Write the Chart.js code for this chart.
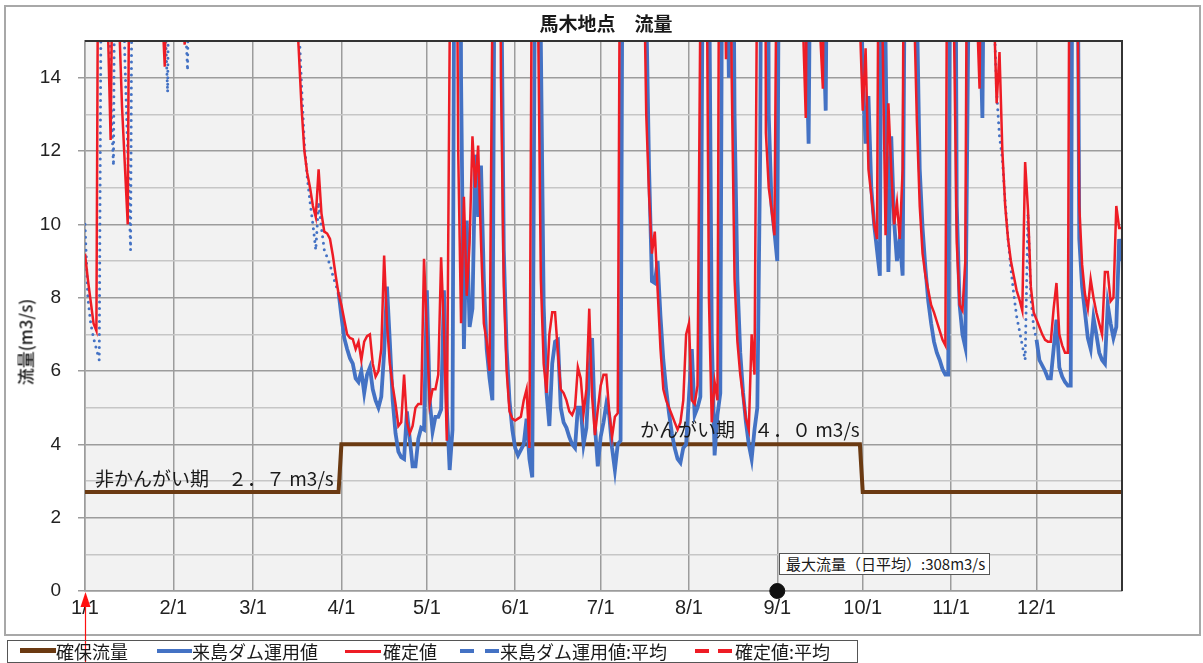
<!DOCTYPE html>
<html lang="ja">
<head>
<meta charset="utf-8">
<script src="https://cdn.jsdelivr.net/npm/chart.js@4.4.1/dist/chart.umd.min.js"></script>
<style>
html,body{margin:0;padding:0;background:#fff;}
body{width:1203px;height:663px;position:relative;overflow:hidden;font-family:"Noto Sans CJK JP","Noto Sans",sans-serif;color:#1a1a1a;}
#frame{position:absolute;left:4px;top:5px;width:1197px;height:631px;border:2px solid #a8a8a8;box-sizing:border-box;}
canvas#c{position:absolute;left:0;top:0;}
.txt{position:absolute;white-space:nowrap;line-height:1;}
#title{left:0;width:1212px;top:13px;text-align:center;font-size:19px;font-weight:bold;}
#ytitle{left:25px;top:342px;transform:translate(-50%,-50%) rotate(-90deg);font-size:17px;font-weight:500;}
#ann1{left:95px;top:468px;font-size:19px;}
#ann2{left:640px;top:419px;font-size:19px;}
#maxbox{position:absolute;left:779px;top:553px;width:211px;height:22px;border:1px solid #555;background:#fff;box-sizing:border-box;font-size:15px;line-height:20px;padding-left:6px;white-space:nowrap;}
#legend{position:absolute;left:7px;top:640px;width:851px;height:23px;border:1.5px solid #555;box-sizing:border-box;}
.sw{position:absolute;height:4px;top:649px;}
.lt{position:absolute;top:642px;font-size:18px;line-height:18px;white-space:nowrap;}
</style>
</head>
<body>
<div id="frame"></div>
<canvas id="c" width="1203" height="663"></canvas>
<div class="txt" id="title">馬木地点　流量</div>
<div class="txt" id="ytitle">流量(m3/s)</div>
<div class="txt" id="ann1">非かんがい期　２．７ m3/s</div>
<div class="txt" id="ann2">かんがい期　４．０ m3/s</div>
<div id="maxbox">最大流量（日平均）:308m3/s</div>
<div id="legend"></div>
<div class="sw" style="left:20px;width:36px;height:5px;top:648px;background:#6b3a12"></div>
<div class="lt" style="left:56px">確保流量</div>
<div class="sw" style="left:157px;width:35px;background:#4472c4"></div>
<div class="lt" style="left:192px">来島ダム運用値</div>
<div class="sw" style="left:345px;width:36px;height:3px;top:650px;background:#ee1c25"></div>
<div class="lt" style="left:383px">確定値</div>
<div class="sw" style="left:460px;width:14px;background:#4472c4"></div>
<div class="sw" style="left:485px;width:14px;background:#4472c4"></div>
<div class="lt" style="left:500px">来島ダム運用値:平均</div>
<div class="sw" style="left:695px;width:14px;background:#ee1c25"></div>
<div class="sw" style="left:718px;width:14px;background:#ee1c25"></div>
<div class="lt" style="left:735px">確定値:平均</div>
<script>
// ---- data (day index 0 = 1/1) ----
const monthStartDays = [0,31,59,90,120,151,181,212,243,273,304,334];
const monthLabels = ["1/1","2/1","3/1","4/1","5/1","6/1","7/1","8/1","9/1","10/1","11/1","12/1"];
const yTickLabels = [0,2,4,6,8,10,12,14];
function gap(n){ return new Array(n).fill(null); }

// 確定値 (daily)
const confirmedFlow = [
 9.2,8.5,7.9,7.3,7.1,25,38,22,15.5,12.3,
 20,32,15.5,13.2,11.6,10.0,24,40,55,45,
 38,32,28,25,22,20,18,16,14.3,19,
 26,22,20,18,16,14.9,19,30,45,60,
 52,44,38,34,30,28,35,48,42,36,
 31,28,26,24,30,42,38,33,29,27,
 25,32,45,40,35,31,28,26,24,22,
 21,19.5,18.5,17.5,16.2,14.8,13.2,12.0,11.4,11.0,
 10.5,10.2,11.5,10.3,9.8,9.75,9.6,9.15,8.6,8.1,
 7.8,7.4,7.0,6.9,6.87,6.6,6.8,6.3,6.8,6.95,
 7.0,6.2,5.85,6.0,6.6,9.15,7.3,6.2,5.6,5.1,
 4.5,4.6,5.9,4.6,4.3,4.5,5.0,5.1,5.1,9.06,
 7.1,5.1,5.5,5.5,5.9,9.1,7.1,4.1,15,40,
 25,12,7.3,10.75,8.05,9.5,12.4,11.0,12.15,9.5,
 7.3,6.8,6.0,16,40,30,14,8.3,6.0,4.9,
 4.7,4.65,4.7,4.75,5.2,5.5,3.9,20,40,16,
 8.5,6.2,5.4,7.0,7.6,7.6,6.5,5.5,5.4,5.2,
 4.9,4.8,5.0,6.1,5.8,4.85,5.5,7.7,5.3,4.25,
 4.95,5.6,5.9,5.9,4.9,4.2,4.75,4.85,22,45,
 60,42,33,38,28,22,18,13.0,10.8,9.2,
 9.8,8.2,6.6,5.5,5.2,5.0,4.8,4.6,4.4,4.6,
 5.2,7.0,7.3,5.2,5.1,5.6,16,38,20,8,
 4.6,5.7,5.2,28,20,14.5,24,14,8.5,6.8,
 5.9,5.3,4.7,4.4,7.0,5.9,18,35,45,12.5,
 11.0,10.4,9.7,20,308,120,70,50,40,32,
 26,20,15.5,12.9,24,40,30,20,15.3,13.7,
 25,45,38,32,28,40,35,30,27,24,
 22,19,15.5,13.1,14.8,11.5,10.8,10.0,9.6,25,
 15,9.7,13.3,11.5,10.0,10.6,9.6,11.5,28,40,
 24,16,12.8,10.5,9.2,8.6,8.2,7.8,7.6,7.35,
 7.1,6.85,6.7,25,30,15.5,9.5,7.8,7.65,9.0,
 25,35,22,16,13.7,22,35,26,20,16,
 13.3,14.7,12.0,10.5,9.6,9.0,8.6,8.2,7.95,7.65,
 11.7,10.4,8.3,7.6,7.4,7.2,7.0,6.85,6.8,6.8,
 7.7,8.4,7.0,6.7,6.5,6.5,28,40,20,10.5,
 8.9,8.1,7.7,8.5,8.0,7.6,7.3,7.0,8.7,8.7,
 7.9,8.0,10.5,9.9,9.9
];

// 来島ダム運用値 (daily, missing where not reported)
const kurushimaFlow = [].concat(gap(89), [
 8.15,
 7.5,6.9,6.6,6.35,6.2,5.8,5.7,6.0,5.4,5.9,
 6.1,5.5,5.2,5.0,5.3,6.5,8.3,6.8,5.2,4.3,
 3.8,3.65,3.6,4.9,4.15,3.4,3.4,4.15,4.45,4.4,
 8.2,5.2,4.35,4.75,4.75,4.95,8.2,5.0,3.3,4.4,
 26,40,14,6.6,10.1,7.2,7.7,11.9,10.2,11.6,
 8.5,6.6,5.8,5.2,22,40,18,9.3,6.6,5.2,
 4.4,3.9,3.7,3.85,4.0,4.7,3.6,3.1,18,35,
 15,7.8,5.4,4.5,6.2,6.8,6.85,5.0,4.6,4.45,
 4.2,4.0,3.9,5.0,5.0,4.0,4.45,6.0,6.9,4.5,
 3.4,4.2,4.6,5.1,4.8,3.9,3.3,4.0,4.1,25,
 50,60,40,30,35,25,22,16,11.5,8.45,
 8.4,9.0,7.5,6.3,5.5,4.85,4.3,3.9,3.6,3.5,
 3.9,4.0,5.3,6.6,4.8,5.0,5.3,20,40,18,
 7,3.7,4.8,5.4,25,20,14.0,25,13,8.5,
 6.5,5.4,4.6,4.0,3.6,4.4,5.0,12,30,40,
 13,10.5,9.8,9.0,25,280,110,60,45,36,
 30,24,20,15.5,12.2,22,38,28,20,15.8,
 13.1,24,42,36,30,33,38,32,28,25,
 22,20,18,14.1,12.2,13.5,11.0,10.0,9.3,8.6,
 25,15,8.7,12.4,10.1,9.0,9.6,8.6,20,38,
 45,30,16,11.5,9.9,8.8,7.9,7.3,6.8,6.5,
 6.3,6.05,5.9,5.9,25,28,10.5,7.8,7.0,6.65,
 15,30,25,20,16,12.9,22,38,28
], gap(15), [
 6.85,6.3,6.15,6.0,5.8,5.8,
 6.6,7.4,6.1,5.85,5.7,5.6,5.6,28,25,9.6,
 8.3,7.6,6.9,6.6,7.45,7.0,6.5,6.3,6.2,7.8,
 7.3,6.9,7.2,9.6,9.0
]);

// 来島ダム運用値:平均 (shown dotted where daily value is missing)
const kurushimaAvgFlow = [].concat([
 10.0,8.0,7.3,6.9,6.6,6.3,22,40,22,13.5,
 11.6,26,34,18,14.5,12.0,9.3,26,42,56,
 48,40,33,29,26,23,21,18.5,15.8,13.6,
 22,27,23,20,18,16,14.2,22,32,48,
 58,50,42,37,33,30,29,38,46,40,
 34,30,27,25,26,36,40,35,31,28,
 26,28,40,42,37,33,29,27,25,23,
 21.5,20,18.8,17.8,16.8,15.6,13.8,12.2,11.3,10.6,
 10.0,9.3,10.6,9.9,9.3,9.1,8.9,8.6,8.35,8.15
], gap(228), [
 25,16,
 13.6,12.4,11.8,10.6,9.6,8.8,8.1,7.5,7.1,6.7,
 6.3,10.3,8.0,7.2,6.85
], gap(30));

// 確保流量 (step)
const secureFlowDays = [0,89,90,272,273,364];
const secureFlowValues = [2.7,2.7,4.0,4.0,2.7,2.7];

// 最大流量 marker and start arrow
const maxFlowDay = [243];
const maxFlowMarkerValue = [0];
const startArrowDay = 0;

const dayIndex = confirmedFlow.map((_, i) => i);

const framePlugin = {
  id: 'framePlugin',
  beforeDraw(chart) {
    const {ctx, chartArea: a} = chart;
    ctx.save();
    ctx.fillStyle = '#f2f2f2';
    ctx.fillRect(a.left, a.top, a.right - a.left, a.bottom - a.top);
    ctx.restore();
  },
  afterDraw(chart) {
    const {ctx, chartArea: a, scales} = chart;
    ctx.save();
    ctx.strokeStyle = '#333';
    ctx.lineWidth = 2;
    ctx.beginPath();
    ctx.moveTo(a.left, a.top);
    ctx.lineTo(a.right, a.top);
    ctx.lineTo(a.right, a.bottom);
    ctx.stroke();
    const x = Math.round(scales.x.getPixelForValue(startArrowDay)) + 0.5;
    const y0 = scales.y.getPixelForValue(0);
    ctx.strokeStyle = '#ff1010';
    ctx.lineWidth = 1.2;
    ctx.beginPath();
    ctx.moveTo(x, chart.height);
    ctx.lineTo(x, y0 + 12);
    ctx.stroke();
    ctx.fillStyle = '#ff1010';
    ctx.beginPath();
    ctx.moveTo(x, y0 + 1);
    ctx.lineTo(x - 5, y0 + 16);
    ctx.lineTo(x + 5, y0 + 16);
    ctx.closePath();
    ctx.fill();
    ctx.restore();
  }
};

new Chart(document.getElementById('c'), {
  type: 'line',
  data: {
    labels: dayIndex,
    datasets: [
      {
        label: '最大流量',
        data: maxFlowDay.map((d, i) => ({x: d, y: maxFlowMarkerValue[i]})),
        showLine: false, pointRadius: 7.5, pointBackgroundColor: '#111', pointBorderColor: '#111',
        order: -1, clip: false
      },
      {
        label: '確定値', data: confirmedFlow,
        borderColor: '#ee1c25', borderWidth: 2.5, pointRadius: 0, order: 0, clip: 0, spanGaps: false
      },
      {
        label: '来島ダム運用値', data: kurushimaFlow,
        borderColor: '#4472c4', borderWidth: 3.8, pointRadius: 0, order: 1, clip: 0, spanGaps: false
      },
      {
        label: '来島ダム運用値:平均', data: kurushimaAvgFlow,
        borderColor: '#4472c4', borderWidth: 3, borderDash: [0, 6.5], borderCapStyle: 'round',
        pointRadius: 0, order: 2, clip: 0, spanGaps: false
      },
      {
        label: '確保流量',
        data: secureFlowDays.map((d, i) => ({x: d, y: secureFlowValues[i]})),
        borderColor: '#6b3a12', borderWidth: 4, pointRadius: 0, order: 3, clip: 0
      }
    ]
  },
  options: {
    responsive: false, animation: false, devicePixelRatio: 1,
    layout: {padding: {left: 0, right: 81, top: 41, bottom: 0}},
    plugins: {legend: {display: false}, tooltip: {enabled: false}, title: {display: false}},
    elements: {line: {tension: 0}},
    scales: {
      x: {
        type: 'linear', min: 0, max: 364,
        afterBuildTicks: s => { s.ticks = monthStartDays.map(v => ({value: v})); },
        afterFit: s => { s.height = 72; },
        ticks: {
          autoSkip: false, maxRotation: 0, padding: 5, color: '#222',
          font: {family: '"Liberation Sans Narrow","Liberation Sans",Arial,sans-serif', size: 20},
          callback: v => { const k = monthStartDays.indexOf(v); return k >= 0 ? monthLabels[k] : ''; }
        },
        grid: {color: '#9c9c9c', lineWidth: 1.5, drawTicks: false},
        border: {color: '#9c9c9c', width: 1.5}
      },
      y: {
        min: 0, max: 15,
        afterBuildTicks: s => { const t = []; for (let v = 0; v <= 15; v++) t.push({value: v}); s.ticks = t; },
        afterFit: s => { s.width = 85; },
        ticks: {
          padding: 17, color: '#222',
          font: {family: '"Liberation Sans",Arial,sans-serif', size: 19},
          callback: v => yTickLabels.includes(v) ? String(v) : ''
        },
        grid: {
          lineWidth: 1.5, tickLength: 7,
          color: c => (c.tick && c.tick.value % 2 === 0) ? '#9c9c9c' : '#c6c6c6',
          tickColor: c => (c.tick && c.tick.value % 2 === 0) ? '#9c9c9c' : 'rgba(0,0,0,0)'
        },
        border: {color: '#9c9c9c', width: 1.5}
      }
    }
  },
  plugins: [framePlugin]
});
</script>
</body>
</html>
